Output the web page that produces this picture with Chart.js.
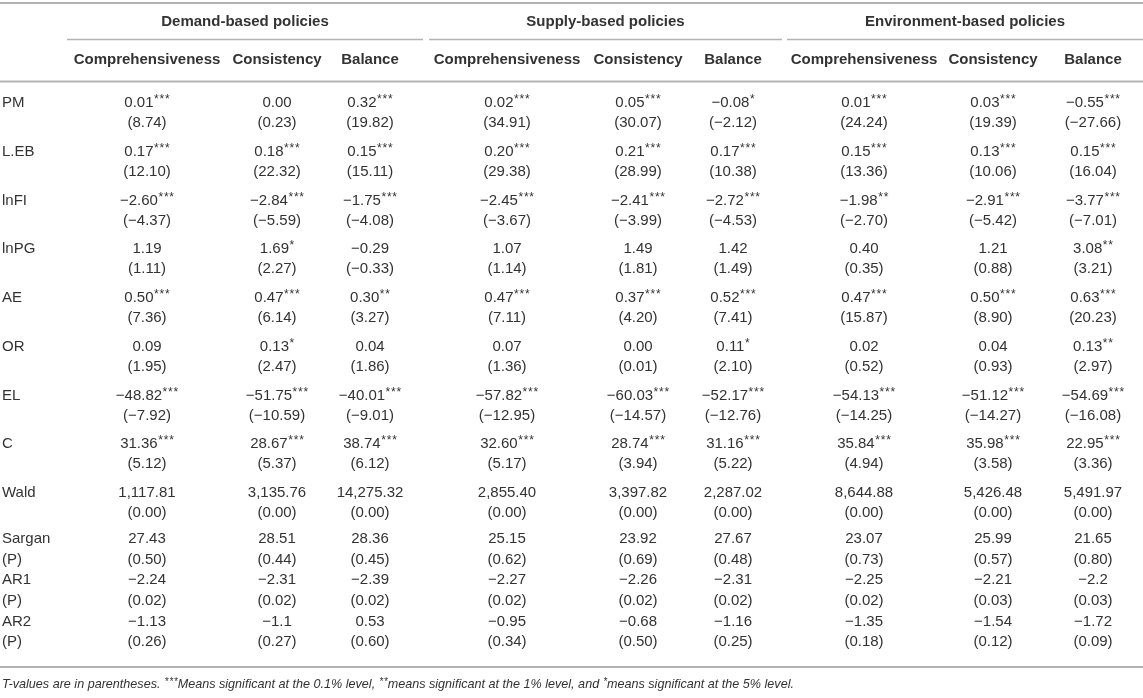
<!DOCTYPE html>
<html>
<head>
<meta charset="utf-8">
<script src="https://cdn.jsdelivr.net/npm/chart.js@4.4.1/dist/chart.umd.min.js"></script>
<style>
  html, body { margin: 0; padding: 0; background: #fff; }
  #wrap { width: 1143px; height: 698px; position: relative; }
</style>
</head>
<body>
<div id="wrap"><canvas id="tableChart"></canvas></div>
<script>
// Table content
const groups = ["Demand-based policies", "Supply-based policies", "Environment-based policies"];
const columns = ["Comprehensiveness", "Consistency", "Balance",
                 "Comprehensiveness", "Consistency", "Balance",
                 "Comprehensiveness", "Consistency", "Balance"];
const rowKeys = ["PM", "L.EB", "lnFI", "lnPG", "AE", "OR", "EL", "C", "Wald", "Sargan", "AR1", "AR2"];
const rowSubKeys = ["", "", "", "", "", "", "", "", "", "(P)", "(P)", "(P)"];

const pmCoef = ["0.01***", "0.00", "0.32***", "0.02***", "0.05***", "−0.08*", "0.01***", "0.03***", "−0.55***"];
const pmT = ["(8.74)", "(0.23)", "(19.82)", "(34.91)", "(30.07)", "(−2.12)", "(24.24)", "(19.39)", "(−27.66)"];
const lebCoef = ["0.17***", "0.18***", "0.15***", "0.20***", "0.21***", "0.17***", "0.15***", "0.13***", "0.15***"];
const lebT = ["(12.10)", "(22.32)", "(15.11)", "(29.38)", "(28.99)", "(10.38)", "(13.36)", "(10.06)", "(16.04)"];
const fiCoef = ["−2.60***", "−2.84***", "−1.75***", "−2.45***", "−2.41***", "−2.72***", "−1.98**", "−2.91***", "−3.77***"];
const fiT = ["(−4.37)", "(−5.59)", "(−4.08)", "(−3.67)", "(−3.99)", "(−4.53)", "(−2.70)", "(−5.42)", "(−7.01)"];
const pgCoef = ["1.19", "1.69*", "−0.29", "1.07", "1.49", "1.42", "0.40", "1.21", "3.08**"];
const pgT = ["(1.11)", "(2.27)", "(−0.33)", "(1.14)", "(1.81)", "(1.49)", "(0.35)", "(0.88)", "(3.21)"];
const aeCoef = ["0.50***", "0.47***", "0.30**", "0.47***", "0.37***", "0.52***", "0.47***", "0.50***", "0.63***"];
const aeT = ["(7.36)", "(6.14)", "(3.27)", "(7.11)", "(4.20)", "(7.41)", "(15.87)", "(8.90)", "(20.23)"];
const orCoef = ["0.09", "0.13*", "0.04", "0.07", "0.00", "0.11*", "0.02", "0.04", "0.13**"];
const orT = ["(1.95)", "(2.47)", "(1.86)", "(1.36)", "(0.01)", "(2.10)", "(0.52)", "(0.93)", "(2.97)"];
const elCoef = ["−48.82***", "−51.75***", "−40.01***", "−57.82***", "−60.03***", "−52.17***", "−54.13***", "−51.12***", "−54.69***"];
const elT = ["(−7.92)", "(−10.59)", "(−9.01)", "(−12.95)", "(−14.57)", "(−12.76)", "(−14.25)", "(−14.27)", "(−16.08)"];
const cCoef = ["31.36***", "28.67***", "38.74***", "32.60***", "28.74***", "31.16***", "35.84***", "35.98***", "22.95***"];
const cT = ["(5.12)", "(5.37)", "(6.12)", "(5.17)", "(3.94)", "(5.22)", "(4.94)", "(3.58)", "(3.36)"];
const waldCoef = ["1,117.81", "3,135.76", "14,275.32", "2,855.40", "3,397.82", "2,287.02", "8,644.88", "5,426.48", "5,491.97"];
const waldT = ["(0.00)", "(0.00)", "(0.00)", "(0.00)", "(0.00)", "(0.00)", "(0.00)", "(0.00)", "(0.00)"];
const sarganCoef = ["27.43", "28.51", "28.36", "25.15", "23.92", "27.67", "23.07", "25.99", "21.65"];
const sarganP = ["(0.50)", "(0.44)", "(0.45)", "(0.62)", "(0.69)", "(0.48)", "(0.73)", "(0.57)", "(0.80)"];
const ar1Coef = ["−2.24", "−2.31", "−2.39", "−2.27", "−2.26", "−2.31", "−2.25", "−2.21", "−2.2"];
const ar1P = ["(0.02)", "(0.02)", "(0.02)", "(0.02)", "(0.02)", "(0.02)", "(0.02)", "(0.03)", "(0.03)"];
const ar2Coef = ["−1.13", "−1.1", "0.53", "−0.95", "−0.68", "−1.16", "−1.35", "−1.54", "−1.72"];
const ar2P = ["(0.26)", "(0.27)", "(0.60)", "(0.34)", "(0.50)", "(0.25)", "(0.18)", "(0.12)", "(0.09)"];

const footnote = "T-values are in parentheses. ***Means significant at the 0.1% level, **means significant at the 1% level, and *means significant at the 5% level.";

const coefRows = [pmCoef, lebCoef, fiCoef, pgCoef, aeCoef, orCoef, elCoef, cCoef, waldCoef, sarganCoef, ar1Coef, ar2Coef];
const lowerRows = [pmT, lebT, fiT, pgT, aeT, orT, elT, cT, waldT, sarganP, ar1P, ar2P];

// Layout (axis units = px of the table)
const labelX = 2;
const colCenters = [147, 277, 370, 507, 638, 733, 864, 993, 1093];
const groupSpans = [[67, 423], [429, 782], [787, 1143]];
const headerRule = 81.5;
const bodyTop = 103, bodyPitch = 48.75, bodyGap = 20;   // two-line coefficient rows
const testTop = 539, testPitch = 41.2, testGap = 20.6;  // Sargan / AR rows
const bottomRule = 667;

function rowY(i) {
  return i < 9 ? bodyTop + bodyPitch * i : testTop + testPitch * (i - 9);
}
function rowGap(i) {
  return i < 9 ? bodyGap : testGap;
}

const FONT = '"Liberation Sans", Arial, Helvetica, sans-serif';
const TEXT = "#333333";
const RULE = "#b4b4b4";

// text where asterisks are drawn as small superscripts
function drawMarked(ctx, text, x, y, align, size, style) {
  const parts = text.match(/\*+|[^*]+/g) || [];
  const base = style + " " + size + "px " + FONT;
  const supSize = Math.round(size * 0.8);
  const sup = style + " " + supSize + "px " + FONT;
  const starGap = 0.8;
  const widthOf = p => {
    if (p[0] === "*") {
      ctx.font = sup;
      return p.length * ctx.measureText("*").width + (p.length - 1) * starGap + 0.5;
    }
    ctx.font = base;
    return ctx.measureText(p).width;
  };
  let total = 0;
  parts.forEach(p => { total += widthOf(p); });
  let cx = align === "center" ? x - total / 2 : x;
  ctx.textAlign = "left";
  ctx.textBaseline = "middle";
  parts.forEach(p => {
    const w = widthOf(p);
    if (p[0] === "*") {
      ctx.font = sup;
      const sw = ctx.measureText("*").width;
      for (let k = 0; k < p.length; k++) {
        ctx.fillText("*", cx + 0.5 + k * (sw + starGap), y - size * 0.22);
      }
    } else {
      ctx.font = base;
      ctx.fillText(p, cx, y);
    }
    cx += w;
  });
}

function rule(ctx, x1, x2, y, w) {
  ctx.save();
  ctx.strokeStyle = RULE;
  ctx.lineWidth = w;
  ctx.beginPath();
  ctx.moveTo(x1, y);
  ctx.lineTo(x2, y);
  ctx.stroke();
  ctx.restore();
}

const tablePlugin = {
  id: "tableText",
  afterDatasetsDraw(chart) {
    const ctx = chart.ctx;
    const xs = chart.scales.x;
    const ys = chart.scales.y;
    const left = xs.getPixelForValue(0);
    const right = xs.getPixelForValue(1143);
    ctx.save();
    ctx.fillStyle = TEXT;

    // header block
    rule(ctx, left, right, ys.getPixelForValue(3), 2);
    groups.forEach((g, i) => {
      const a = xs.getPixelForValue(groupSpans[i][0]);
      const b = xs.getPixelForValue(groupSpans[i][1]);
      drawMarked(ctx, g, (a + b) / 2, ys.getPixelForValue(22), "center", 15, "bold");
      rule(ctx, a, b, ys.getPixelForValue(39.5), 1.5);
    });
    columns.forEach((c, j) => {
      drawMarked(ctx, c, xs.getPixelForValue(colCenters[j]), ys.getPixelForValue(60), "center", 15, "bold");
    });
    rule(ctx, left, right, ys.getPixelForValue(headerRule), 2);

    // body cells, positioned by the dataset points
    chart.data.datasets.forEach((ds, di) => {
      const meta = chart.getDatasetMeta(di);
      meta.data.forEach((pt, ri) => {
        const lowY = ys.getPixelForValue(rowY(ri) + rowGap(ri));
        if (ds.isLabel) {
          drawMarked(ctx, rowKeys[ri], pt.x, pt.y, "left", 15, "normal");
          if (rowSubKeys[ri]) drawMarked(ctx, rowSubKeys[ri], pt.x, lowY, "left", 15, "normal");
        } else {
          drawMarked(ctx, coefRows[ri][ds.col], pt.x, pt.y, "center", 15, "normal");
          drawMarked(ctx, lowerRows[ri][ds.col], pt.x, lowY, "center", 15, "normal");
        }
      });
    });

    // bottom rule + footnote
    rule(ctx, left, right, ys.getPixelForValue(bottomRule), 2);
    drawMarked(ctx, footnote, left + 2, ys.getPixelForValue(684.5), "left", 12.6, "italic");
    ctx.restore();
  }
};

const datasets = [{
  isLabel: true,
  data: rowKeys.map((k, i) => ({ x: labelX, y: rowY(i) })),
  pointRadius: 0
}];
colCenters.forEach((cx, j) => {
  datasets.push({
    col: j,
    data: rowKeys.map((k, i) => ({ x: cx, y: rowY(i) })),
    pointRadius: 0
  });
});

new Chart(document.getElementById("tableChart").getContext("2d"), {
  type: "scatter",
  data: { datasets: datasets },
  options: {
    responsive: true,
    maintainAspectRatio: false,
    animation: false,
    events: [],
    layout: { padding: 0 },
    plugins: { legend: { display: false }, tooltip: { enabled: false } },
    scales: {
      x: { type: "linear", min: 0, max: 1143, display: false },
      y: { type: "linear", min: 0, max: 698, reverse: true, display: false }
    }
  },
  plugins: [tablePlugin]
});
</script>
</body>
</html>
